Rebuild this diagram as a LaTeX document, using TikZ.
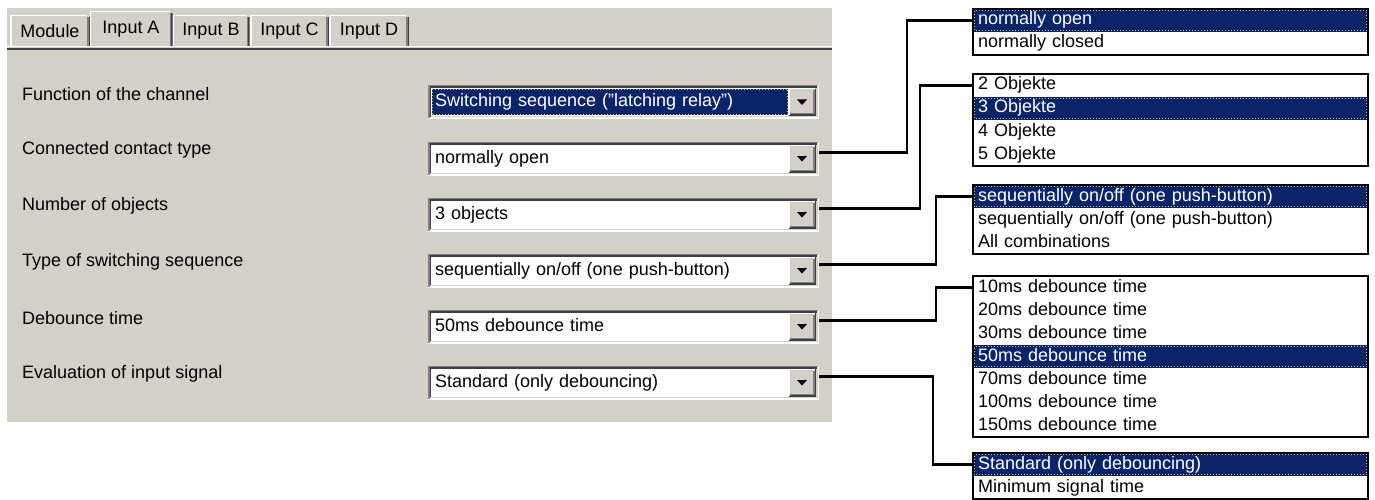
\documentclass[tikz,border=0pt]{standalone}
\usepackage{fontspec}
\setmainfont{Liberation Sans}
\usetikzlibrary{positioning}

\definecolor{panel}{HTML}{D4D0C8}
\definecolor{selblue}{HTML}{0A246A}
\definecolor{shadow}{HTML}{808080}
\definecolor{darkshadow}{HTML}{404040}
\definecolor{focuscol}{HTML}{D8C060}

\newcommand{\comboframe}{%
  \coordinate (sw) at (path picture bounding box.south west);
  \coordinate (ne) at (path picture bounding box.north east);
  \coordinate (se) at (sw -| ne);
  \draw[white,line width=1.5pt] ([shift={(.75pt,.75pt)}]sw) -| ([shift={(-.75pt,-.75pt)}]ne);
  \draw[shadow,line width=1.5pt] ([shift={(.75pt,.75pt)}]sw) |- ([shift={(-.75pt,-.75pt)}]ne);
  \draw[panel,line width=1.5pt] ([shift={(2.25pt,2.25pt)}]sw) -| ([shift={(-2.25pt,-2.25pt)}]ne);
  \draw[darkshadow,line width=1.5pt] ([shift={(2.25pt,2.25pt)}]sw) |- ([shift={(-2.25pt,-2.25pt)}]ne);
  \fill[panel] ([shift={(-31pt,3pt)}]se) rectangle ([shift={(-3pt,-3pt)}]ne);
  \draw[darkshadow,line width=1.5pt] ([shift={(-30.25pt,3.75pt)}]se) -| ([shift={(-3.75pt,-3.75pt)}]ne);
  \draw[white,line width=1.5pt] ([shift={(-30.25pt,3.75pt)}]se) |- ([shift={(-3.75pt,-3.75pt)}]ne);
  \draw[shadow,line width=1.5pt] ([shift={(-28.75pt,5.25pt)}]se) -| ([shift={(-5.25pt,-5.25pt)}]ne);
  \fill[black] ([shift={(-22pt,19.5pt)}]se) -- ++(10pt,0pt) -- ++(-5pt,-5.5pt) -- cycle;
}

\newcommand{\tabframe}{%
  \coordinate (sw) at (path picture bounding box.south west);
  \coordinate (ne) at (path picture bounding box.north east);
  \coordinate (se) at (sw -| ne);
  \draw[white,line width=1.5pt] ([shift={(.75pt,0pt)}]sw) |- ([shift={(-3pt,-.75pt)}]ne);
  \draw[shadow,line width=1.5pt] ([shift={(-2.25pt,-2pt)}]ne) -- ([shift={(-2.25pt,0pt)}]se);
  \draw[darkshadow,line width=1.5pt] ([shift={(-.75pt,-2.5pt)}]ne) -- ([shift={(-.75pt,0pt)}]se);
}

\tikzset{
  focus/.style={draw=focuscol, dotted, line width=1pt},
  parname/.style={anchor=west, inner sep=0pt},
  tabbox/.style={fill=panel, minimum height=32pt, inner sep=0pt, path picture={\tabframe}},
  combobox/.style={fill=white, minimum width=391pt, minimum height=34pt, text width=377pt, inner xsep=7pt, inner ysep=0pt, align=left, text height=13pt, text depth=4pt, path picture={\comboframe}},
  combosel/.style={combobox, text=white, path picture={\comboframe
      \fill[selblue] ([shift={(4pt,4pt)}]sw) rectangle ([shift={(-31pt,-4pt)}]ne);
      \draw[focus] ([shift={(4.5pt,4.5pt)}]sw) rectangle ([shift={(-31.5pt,-4.5pt)}]ne);}},
  listrow/.style={anchor=north, fill=white, minimum width=395pt, minimum height=23pt, text width=385pt, inner xsep=5pt, inner ysep=0pt, outer sep=0pt, align=left, text height=13pt, text depth=4pt},
  listsel/.style={listrow, fill=selblue, text=white, path picture={\draw[focus] ([shift={(1.5pt,1.5pt)}]path picture bounding box.south west) rectangle ([shift={(-1.5pt,-1.5pt)}]path picture bounding box.north east);}},
  listframe/.style={draw=black, line width=1.5pt},
  wire/.style={line width=2.5pt}
}

\begin{document}
\begin{tikzpicture}[x=1pt, y=-1pt, font=\fontsize{18}{21}\selectfont]
\useasboundingbox (0,0) rectangle (1375,500);
\fill[panel] (7,8) rectangle (832,422);

\node[tabbox, minimum width=80pt] (tmod) at (50,31) {Module};
\node[tabbox, minimum width=77pt] (tinb) at (211,31) {Input B};
\node[tabbox, minimum width=79pt] (tinc) at (289.5,31) {Input C};
\node[tabbox, minimum width=80pt] (tind) at (369,31) {Input D};
\node[tabbox, minimum width=83pt, minimum height=36pt] (tina) at (131,29) {Input A};
\draw[white, line width=1.5pt] (7,46.5) -- (832,46.5);
\draw[darkshadow, line width=2.5pt] (7,49) -- (832,49);

\node[parname] (pfun) at (22,94) {Function of the channel};
\node[parname] (pcon) at (22,150) {Connected contact type};
\node[parname] (pnum) at (22,206) {Number of objects};
\node[parname] (ptyp) at (22,262) {Type of switching sequence};
\node[parname] (pdeb) at (22,318) {Debounce time};
\node[parname] (peva) at (22,374) {Evaluation of input signal};

\node[combosel] (cfun) at (623.5,102) {Switching sequence ("latching relay")};
\node[combobox] (ccon) at (623.5,158.5) {normally open};
\node[combobox] (cnum) at (623.5,214.5) {3 objects};
\node[combobox] (ctyp) at (623.5,270.5) {sequentially on/off (one push-button)};
\node[combobox] (cdeb) at (623.5,326.5) {50ms debounce time};
\node[combobox] (ceva) at (623.5,382.5) {Standard (only debouncing)};

\node[listsel, anchor=north west] (lcona) at (973,9) {normally open};
\node[listrow, below=0pt of lcona] (lconb) {normally closed};
\draw[listframe] (lcona.north west) rectangle (lconb.south east);

\node[listrow, anchor=north west] (lnuma) at (973,74) {2 Objekte};
\node[listsel, below=0pt of lnuma] (lnumb) {3 Objekte};
\node[listrow, below=0pt of lnumb] (lnumc) {4 Objekte};
\node[listrow, below=0pt of lnumc] (lnumd) {5 Objekte};
\draw[listframe] (lnuma.north west) rectangle (lnumd.south east);

\node[listsel, anchor=north west] (ltypa) at (973,185) {sequentially on/off (one push-button)};
\node[listrow, below=0pt of ltypa] (ltypb) {sequentially on/off (one push-button)};
\node[listrow, below=0pt of ltypb] (ltypc) {All combinations};
\draw[listframe] (ltypa.north west) rectangle (ltypc.south east);

\node[listrow, anchor=north west] (ldeba) at (973,276) {10ms debounce time};
\node[listrow, below=0pt of ldeba] (ldebb) {20ms debounce time};
\node[listrow, below=0pt of ldebb] (ldebc) {30ms debounce time};
\node[listsel, below=0pt of ldebc] (ldebd) {50ms debounce time};
\node[listrow, below=0pt of ldebd] (ldebe) {70ms debounce time};
\node[listrow, below=0pt of ldebe] (ldebf) {100ms debounce time};
\node[listrow, below=0pt of ldebf] (ldebg) {150ms debounce time};
\draw[listframe] (ldeba.north west) rectangle (ldebg.south east);

\node[listsel, anchor=north west] (levaa) at (973,453) {Standard (only debouncing)};
\node[listrow, below=0pt of levaa] (levab) {Minimum signal time};
\draw[listframe] (levaa.north west) rectangle (levab.south east);

\draw[wire] ([yshift=6pt]ccon.east) -| ([xshift=-66pt]lcona.west) -- (lcona.west);
\draw[wire] ([yshift=6pt]cnum.east) -| ([xshift=-53pt]lnuma.west) -- (lnuma.west);
\draw[wire] ([yshift=6pt]ctyp.east) -| ([xshift=-37pt]ltypa.west) -- (ltypa.west);
\draw[wire] ([yshift=6pt]cdeb.east) -| ([xshift=-37pt]ldeba.west) -- (ldeba.west);
\draw[wire] ([yshift=6pt]ceva.east) -| ([xshift=-40pt]levaa.west) -- (levaa.west);
\end{tikzpicture}
\end{document}
